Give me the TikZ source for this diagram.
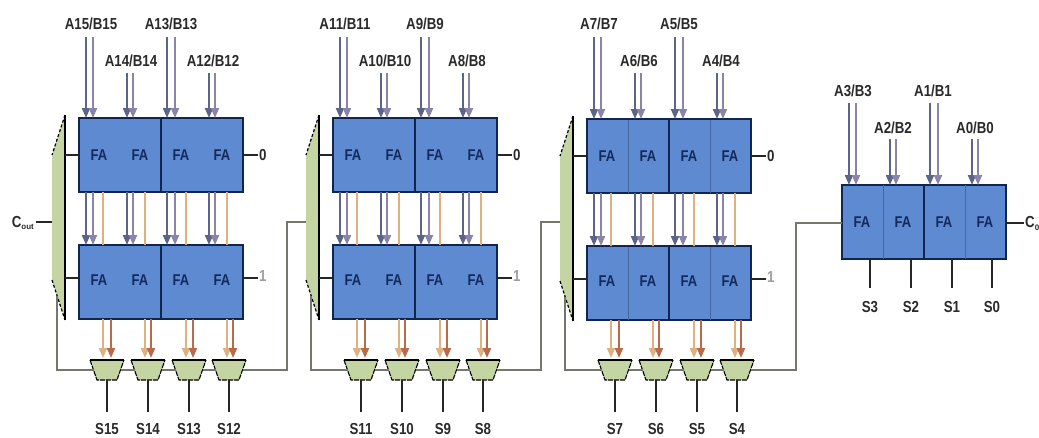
\documentclass[tikz,border=0pt]{standalone}
\usepackage{fontspec}
\setmainfont{Liberation Sans}
\usetikzlibrary{arrows.meta}
\definecolor{fablue}{HTML}{5D8AD0}
\definecolor{faedge}{HTML}{10264F}
\definecolor{faink}{HTML}{142A5C}
\definecolor{muxgreen}{HTML}{C4D4A2}
\definecolor{wirea}{HTML}{5C6488}
\definecolor{wireb}{HTML}{8A84A8}
\definecolor{wirec}{HTML}{E0B07E}
\definecolor{wired}{HTML}{B86A4A}
\definecolor{carry}{HTML}{74786A}
\definecolor{txt}{HTML}{2A2A2A}
\tikzset{
  fablock/.style={draw=faedge,line width=1.4pt,fill=fablue,minimum width=164pt,minimum height=74pt,inner sep=0pt,outer sep=0pt},
  seam/.style={draw=faedge,line width=1.1pt},
  softseam/.style={draw=faedge!35!fablue,line width=.6pt},
  fatext/.style={text=faink,inner sep=0pt,font=\bfseries\fontsize{13}{14}\selectfont},
  lbl/.style={text=txt,inner sep=0pt,font=\bfseries\fontsize{13.3}{14}\selectfont},
  muxspot/.style={rectangle,minimum width=27pt,minimum height=20pt,inner sep=0pt,outer sep=0pt},
  muxside/.style={draw=black,line width=1.1pt,dash pattern=on 5pt off 1pt},
  wa/.style={draw=wirea,line width=2pt,-{Triangle[length=10pt,width=8pt]}},
  wb/.style={draw=wireb,line width=2pt,-{Triangle[length=10pt,width=8pt]}},
  wc/.style={draw=wirec,line width=2pt},
  wd/.style={draw=wired,line width=2pt,-{Triangle[length=10pt,width=8pt]}},
  wo/.style={draw=wirec,line width=2pt,-{Triangle[length=10pt,width=8pt]}},
  carryline/.style={draw=carry,line width=1.5pt},
  stub/.style={draw=black!85,line width=1.5pt},
  sline/.style={draw=black!85,line width=1.2pt},
}
\newcommand\tall[1]{\scalebox{1}[1.2]{#1}}
\def\XA{{86,127,167,209}}
\def\XB{{93,133,175,215}}
\def\XC{{103,145,186,227}}
\def\XD{{111,151,193,233}}
\def\XM{{107,148,189,229}}
\def\XF{{99,140,181,222}}
\def\XL{{91,131,171,213}}
\def\TY{{37,73,37,73}}
\def\LY{{24,61,24,61}}
% #1 group name, #2 dx, #3 dy, #4-#7 bit numbers
\newcommand\fagroup[7]{%
  \node[fablock] (#1u) at (161+#2,155+#3) {};
  \node[fablock] (#1l) at (161+#2,282+#3) {};
  \draw[seam] (#1u.north) -- (#1u.south);
  \draw[seam] (#1l.north) -- (#1l.south);
  \coordinate (#1ne) at (65+#2,115+#3);
  \coordinate (#1nw) at (52+#2,155+#3);
  \coordinate (#1sw) at (52+#2,280+#3);
  \coordinate (#1se) at (65+#2,320+#3);
  \coordinate (#1tap) at (57+#2,296+#3);
  \coordinate (#1in) at (52+#2,222);
  \fill[muxgreen] (#1ne) -- (#1nw) -- (#1sw) -- (#1se) -- cycle;
  \draw[black,line width=1.2pt] (#1ne) -- (#1se);
  \draw[black,line width=1.2pt,dash pattern=on 3pt off 2pt] (#1ne) -- (#1nw);
  \draw[black,line width=1.2pt,dash pattern=on 3pt off 2pt] (#1sw) -- (#1se);
  \coordinate (#1l0) at (65+#2,155+#3);
  \coordinate (#1l1) at (65+#2,278+#3);
  \draw[stub] (#1l0) -- (#1u.west |- #1l0);
  \draw[stub] (#1l1) -- (#1l.west |- #1l1);
  \coordinate (#1r0) at (258+#2,155+#3);
  \coordinate (#1r1) at (258+#2,278+#3);
  \draw[stub] (#1u.east |- #1r0) -- (#1r0);
  \draw[stub] (#1l.east |- #1r1) -- (#1r1);
  \node[lbl,anchor=west,xshift=1pt] (#1z) at (#1r0) {\tall{0}};
  \node[lbl,anchor=west,xshift=1pt,yshift=2pt,text=txt!45] (#1o) at (#1r1) {\tall{1}};
  \foreach \i/\n in {0/#4,1/#5,2/#6,3/#7} {
    \pgfmathsetmacro\xa{\XA[\i]+#2}
    \pgfmathsetmacro\xb{\XB[\i]+#2}
    \pgfmathsetmacro\xc{\XC[\i]+#2}
    \pgfmathsetmacro\xd{\XD[\i]+#2}
    \pgfmathsetmacro\xm{\XM[\i]+#2}
    \pgfmathsetmacro\xf{\XF[\i]+#2}
    \pgfmathsetmacro\xl{\XL[\i]+#2}
    \pgfmathsetmacro\ty{\TY[\i]}
    \pgfmathsetmacro\ly{\LY[\i]}
    \node[lbl] (#1t\i) at (\xl,\ly) {\tall{A\n/B\n}};
    \coordinate (#1pa\i) at (\xa,\ty);
    \coordinate (#1pb\i) at (\xb,\ty);
    \draw[wa] (#1pa\i) -- (#1pa\i |- #1u.north);
    \draw[wb] (#1pb\i) -- (#1pb\i |- #1u.north);
    \coordinate (#1qa\i) at (\xa,200+#3);
    \coordinate (#1qb\i) at (\xb,200+#3);
    \coordinate (#1qc\i) at (\xc,200+#3);
    \draw[wa] (#1qa\i |- #1u.south) -- (#1qa\i |- #1l.north);
    \draw[wb] (#1qb\i |- #1u.south) -- (#1qb\i |- #1l.north);
    \draw[wc] (#1qc\i |- #1u.south) -- (#1qc\i |- #1l.north);
    \node[fatext] (#1f\i) at (\xf,155+#3) {\tall{FA}};
    \node[fatext] (#1g\i) at (\xf,280+#3) {\tall{FA}};
    \node[muxspot] (#1m\i) at (\xm,370) {};
    \fill[muxgreen] (\xm-17,360) -- (\xm+17,360) -- (\xm+10,380) -- (\xm-10,380) -- cycle;
    \draw[muxside] (\xm-17,360) -- (\xm-10,380) -- (\xm+10,380) -- (\xm+17,360);
    \draw[black,line width=2pt] (\xm-17,360) -- (\xm+17,360);
    \coordinate (#1rc\i) at (\xc,358);
    \coordinate (#1rd\i) at (\xd,358);
    \draw[wo] (#1rc\i |- #1l.south) -- (#1rc\i);
    \draw[wd] (#1rd\i |- #1l.south) -- (#1rd\i);
    \coordinate (#1se\i) at (\xm,412);
    \draw[sline] (#1m\i.south) -- (#1se\i);
    \node[lbl] (#1s\i) at (\xm,429) {\tall{S\n}};
  }
  \draw[carryline] (#1tap) -- (#1tap |- #1m0.west) -- (#1m0.west);
  \draw[carryline] (#1m0.east) -- (#1m1.west);
  \draw[carryline] (#1m1.east) -- (#1m2.west);
  \draw[carryline] (#1m2.east) -- (#1m3.west);
}
\begin{document}
\begin{tikzpicture}[x=1pt,y=-1pt]
\useasboundingbox (0,0) rectangle (1039,437);
\fagroup{a}{0}{0}{15}{14}{13}{12}
\fagroup{b}{254}{0}{11}{10}{9}{8}
\fagroup{c}{508}{1}{7}{6}{5}{4}
% thin seams inside the third group
\draw[softseam] (628,120) -- (628,193);
\draw[softseam] (710,120) -- (710,193);
\draw[softseam] (628,247) -- (628,320);
\draw[softseam] (710,247) -- (710,320);
% carry out
\coordinate (cout) at (36,222);
\draw[stub] (cout) -- (ain);
\node[lbl,anchor=east] (coutl) at (34,223) {\tall{C}\raisebox{-2pt}{\fontsize{8}{8}\selectfont out}};
% carries between groups
\coordinate (k1) at (287,370);
\coordinate (k2) at (287,222);
\draw[carryline] (am3.east) -- (k1) -- (k2) -- (bin);
\coordinate (k3) at (541,370);
\coordinate (k4) at (541,222);
\draw[carryline] (bm3.east) -- (k3) -- (k4) -- (cin);
% last group
\node[fablock] (du) at (924,222) {};
\draw[seam] (du.north) -- (du.south);
\draw[softseam] (883,185) -- (883,259);
\draw[softseam] (965,185) -- (965,259);
\coordinate (k5) at (796,370);
\coordinate (k6) at (796,223);
\draw[carryline] (cm3.east) -- (k5) -- (k6) -- (du.west |- k6);
\coordinate (cz) at (1024,223);
\draw[stub] (du.east |- cz) -- (cz);
\node[lbl,anchor=west,xshift=1pt] (czl) at (cz) {\tall{C}\raisebox{-3pt}{\fontsize{8}{8}\selectfont 0}};
\foreach \i/\n in {0/3,1/2,2/1,3/0} {
  \pgfmathsetmacro\xa{\XA[\i]+763}
  \pgfmathsetmacro\xb{\XB[\i]+763}
  \pgfmathsetmacro\xm{\XM[\i]+763}
  \pgfmathsetmacro\xf{\XF[\i]+763}
  \pgfmathsetmacro\xl{\XL[\i]+762}
  \pgfmathsetmacro\ty{\TY[\i]+66}
  \pgfmathsetmacro\ly{\LY[\i]+67}
  \node[lbl] (dt\i) at (\xl,\ly) {\tall{A\n/B\n}};
  \coordinate (dpa\i) at (\xa,\ty);
  \coordinate (dpb\i) at (\xb,\ty);
  \draw[wa] (dpa\i) -- (dpa\i |- du.north);
  \draw[wb] (dpb\i) -- (dpb\i |- du.north);
  \node[fatext] (df\i) at (\xf,222) {\tall{FA}};
  \coordinate (dse\i) at (\xm,288);
  \draw[sline] (dse\i |- du.south) -- (dse\i);
  \node[lbl] (ds\i) at (\xm,307) {\tall{S\n}};
}
\end{tikzpicture}
\end{document}
